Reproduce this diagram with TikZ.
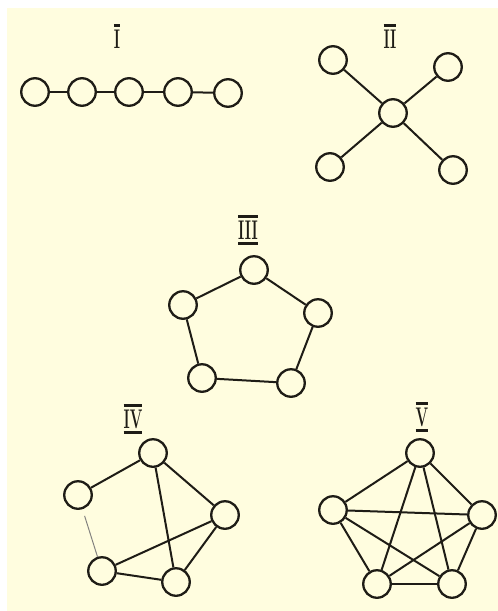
\documentclass[tikz,border=0pt]{standalone}
\usepackage{graphicx}
\definecolor{paper}{RGB}{255,253,223}
\definecolor{ink}{RGB}{30,28,22}
\tikzset{
  vertex/.style={circle, draw=ink, line width=2.3pt, minimum size=27.5pt, inner sep=0pt},
  edge/.style={draw=ink, line width=2pt},
  faint/.style={draw=ink!55, line width=1pt},
  numeral/.style={text=ink, inner sep=0pt}
}
\newcommand{\topbarred}[1]{\scalebox{0.55}[1]{\vbox{\hrule height 3pt\kern2.5pt\hbox{\fontsize{27}{27}\selectfont\bfseries #1}}}}
\newcommand{\bothbarred}[1]{\scalebox{0.55}[1]{\vbox{\hrule height 3pt\kern2.5pt\hbox{\fontsize{27}{27}\selectfont\bfseries #1}\kern2.5pt\hrule height 3pt}}}

\begin{document}
\begin{tikzpicture}[x=1pt, y=-1pt]
            % Paper
            \fill[white] (0,0) rectangle (498,611);
            \fill[paper] (7,8) rectangle (498,611);
            \useasboundingbox (0,0) rectangle (498,611);

            % Graph I: path
            \node[numeral] (lab1) at (117,36) {\topbarred{I}};
            \node[vertex] (c1) at (35,92) {};
            \node[vertex] (c2) at (82,92) {};
            \node[vertex] (c3) at (129,92) {};
            \node[vertex] (c4) at (178,92) {};
            \node[vertex] (c5) at (228,93) {};
            \draw[edge] (c1) -- (c2);
            \draw[edge] (c2) -- (c3);
            \draw[edge] (c3) -- (c4);
            \draw[edge] (c4) -- (c5);

            % Graph II: star
            \node[numeral] (lab2) at (390,36) {\topbarred{II}};
            \node[vertex] (s0) at (393,113) {};
            \node[vertex] (s1) at (333,60) {};
            \node[vertex] (s2) at (448,67) {};
            \node[vertex] (s3) at (330,167) {};
            \node[vertex] (s4) at (453,170) {};
            \draw[edge] (s0) -- (s1);
            \draw[edge] (s0) -- (s2);
            \draw[edge] (s0) -- (s3);
            \draw[edge] (s0) -- (s4);

            % Graph III: cycle
            \node[numeral] (lab3) at (248,230) {\bothbarred{III}};
            \node[vertex] (p1) at (254,270) {};
            \node[vertex] (p2) at (183,305) {};
            \node[vertex] (p3) at (318,313) {};
            \node[vertex] (p4) at (202,378) {};
            \node[vertex] (p5) at (291,383) {};
            \draw[edge] (p1) -- (p2);
            \draw[edge] (p1) -- (p3);
            \draw[edge] (p2) -- (p4);
            \draw[edge] (p3) -- (p5);
            \draw[edge] (p4) -- (p5);

            % Graph IV
            \node[numeral] (lab4) at (133,419) {\bothbarred{IV}};
            \node[vertex] (q1) at (153,453) {};
            \node[vertex] (q2) at (78,495) {};
            \node[vertex] (q3) at (225,515) {};
            \node[vertex] (q4) at (102,571) {};
            \node[vertex] (q5) at (176,582) {};
            \draw[edge] (q1) -- (q2);
            \draw[edge] (q1) -- (q3);
            \draw[edge] (q1) -- (q5);
            \draw[edge] (q3) -- (q4);
            \draw[edge] (q3) -- (q5);
            \draw[edge] (q4) -- (q5);
            \draw[faint, shorten <=7pt] (q2) -- (q4);

            % Graph V: complete
            \node[numeral] (lab5) at (422,417) {\bothbarred{V}};
            \node[vertex] (k1) at (420,453) {};
            \node[vertex] (k2) at (333,510) {};
            \node[vertex] (k3) at (482,515) {};
            \node[vertex] (k4) at (377,584) {};
            \node[vertex] (k5) at (452,584) {};
            \draw[edge] (k1) -- (k2);
            \draw[edge] (k1) -- (k3);
            \draw[edge] (k1) -- (k4);
            \draw[edge] (k1) -- (k5);
            \draw[edge] (k2) -- (k3);
            \draw[edge] (k2) -- (k4);
            \draw[edge] (k2) -- (k5);
            \draw[edge] (k3) -- (k4);
            \draw[edge] (k3) -- (k5);
            \draw[edge] (k4) -- (k5);
\end{tikzpicture}
\end{document}
